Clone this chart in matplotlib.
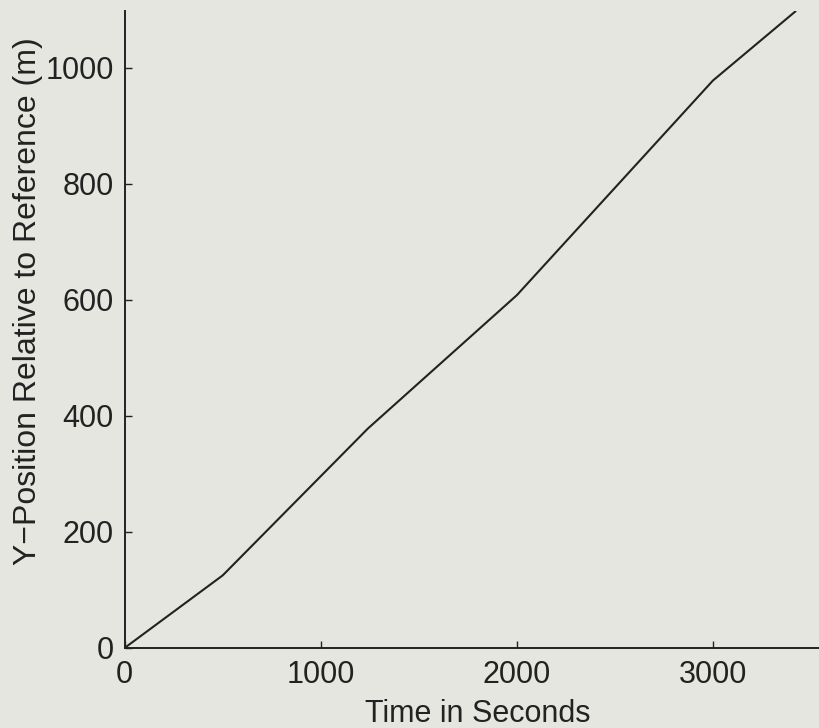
import numpy as np
import matplotlib.pyplot as plt

plt.rcParams['font.family'] = ['Liberation Sans', 'DejaVu Sans']

# time (s) and y-position (m) at the track's turning points
time_s = [0, 500, 1240, 2000, 3000, 3420]
y_pos = [0, 125, 378, 608, 978, 1097]

x_ticks = [0, 1000, 2000, 3000]
y_ticks = [0, 200, 400, 600, 800, 1000]

bg = '#e6e6e0'
fig = plt.figure(figsize=(8.2, 7.28), dpi=100, facecolor=bg)
ax = fig.add_axes([0.152, 0.110, 0.848, 0.875], facecolor=bg)

ax.plot(time_s, y_pos, color='#222222', lw=1.5)

ax.set_xlim(0, 3546)
ax.set_ylim(0, 1098)
ax.set_xticks(x_ticks)
ax.set_yticks(y_ticks)
ax.spines['top'].set_visible(False)
ax.spines['right'].set_visible(False)
for s in ('left', 'bottom'):
    ax.spines[s].set_linewidth(1.4)
    ax.spines[s].set_color('#222222')
ax.tick_params(direction='in', length=5, width=1, colors='#222222',
               labelsize=22, labelcolor='#222222')
ax.tick_params(axis='x', pad=9)
ax.tick_params(axis='y', pad=8)

ax.set_xlabel('Time in Seconds', fontsize=22, color='#222222')
ax.set_ylabel('Y\u2212Position Relative to Reference (m)', fontsize=23,
              color='#222222')
ax.xaxis.set_label_coords(0.508, -0.080)
ax.yaxis.set_label_coords(-0.117, 0.545)

fig.savefig('out.png', dpi=100, facecolor=bg)
